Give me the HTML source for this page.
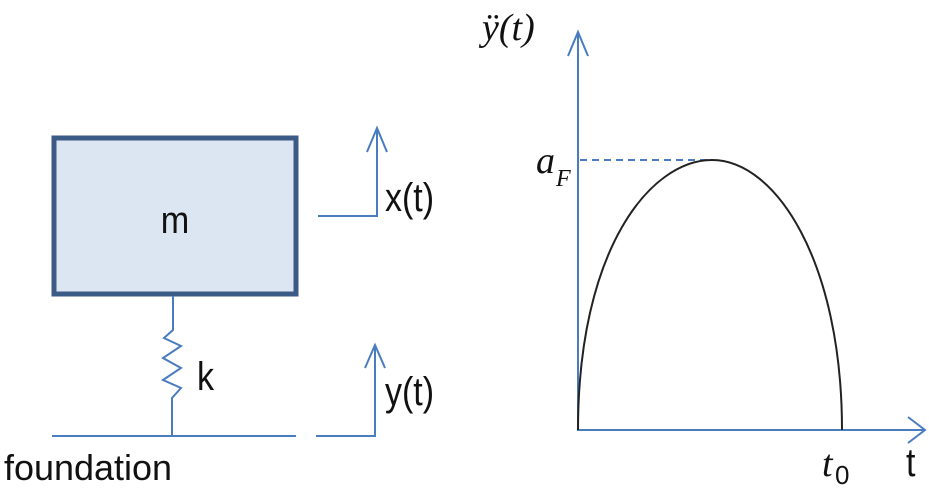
<!DOCTYPE html>
<html><head><meta charset="utf-8"><style>
html,body{margin:0;padding:0;background:#fff;}
svg{display:block;}
</style></head><body>
<svg width="929" height="496" viewBox="0 0 929 496" xmlns="http://www.w3.org/2000/svg">
<rect x="54" y="138" width="242" height="156" fill="#dce6f2" stroke="#3b5a86" stroke-width="5"/>
<text x="175" y="233" font-family="Liberation Sans, sans-serif" font-size="38" text-anchor="middle" fill="#111" transform="translate(175 0) scale(0.9 1) translate(-175 0)">m</text>
<g stroke="#4a7cc0" stroke-width="2" fill="none">
<path d="M173 296 V330 L164 338 L181 346 L163 358 L181 368 L163 380 L181 388 L172 398 V436"/>
<path d="M52 436 H296"/>
<path d="M318 216 H377 V128 M367 152 L377 128 L387 152"/>
<path d="M316 436 H375 V345 M365 368 L375 345 L385 368"/>
<path d="M578 431 V32 M568 56 L578 32 L588 56"/>
<path d="M578 430 H925 M908 417 L925 430 L908 443"/>
<path d="M580 160 H712" stroke-dasharray="7,5"/>
</g>
<path d="M578 430 C578 250 650 160 712 160 C776 160 842 262 842 430" stroke="#222" stroke-width="2" fill="none"/>
<g font-family="Liberation Sans, sans-serif" fill="#111">
<text x="197" y="390" font-size="40" transform="translate(197 0) scale(0.85 1) translate(-197 0)">k</text>
<text x="385" y="211" font-size="40" transform="translate(385 0) scale(0.85 1) translate(-385 0)">x(t)</text>
<text x="385" y="405" font-size="40" transform="translate(385 0) scale(0.85 1) translate(-385 0)">y(t)</text>
<text x="4" y="480" font-size="36" textLength="168" lengthAdjust="spacingAndGlyphs">foundation</text>
<text x="906" y="476" font-size="40" transform="translate(906 0) scale(0.85 1) translate(-906 0)">t</text>
</g>
<text x="482" y="40" font-family="Liberation Serif, serif" font-style="italic" font-size="38" fill="#111">ÿ(t)</text>
<text x="536" y="173" font-family="Liberation Serif, serif" font-style="italic" font-size="38" fill="#111">a</text>
<text x="556" y="186" font-family="Liberation Serif, serif" font-style="italic" font-size="24" fill="#111">F</text>
<text x="822" y="476" font-family="Liberation Serif, serif" font-style="italic" font-size="38" fill="#111">t</text>
<text x="835" y="484" font-family="Liberation Sans, sans-serif" font-size="26" fill="#111">0</text>
</svg>
</body></html>
